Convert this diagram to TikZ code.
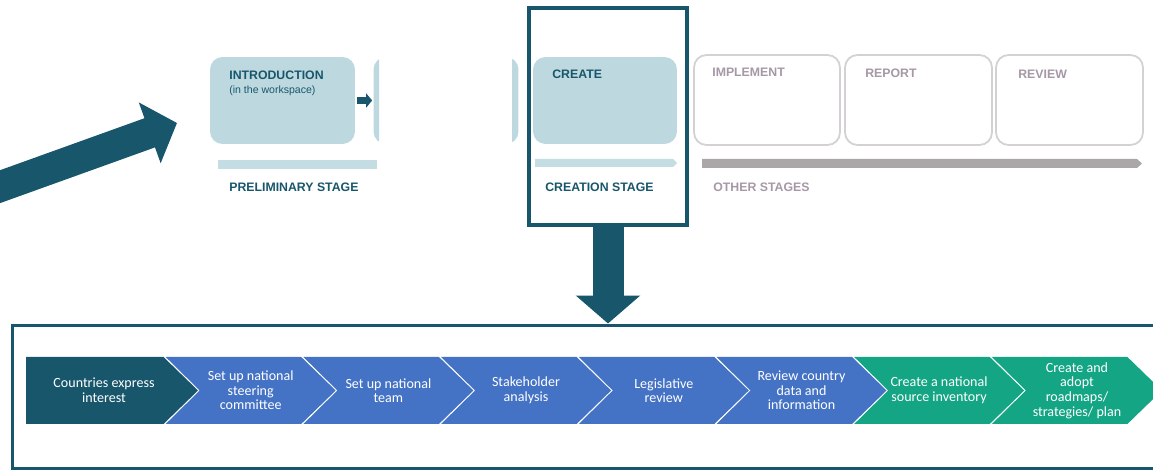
\documentclass[tikz,border=0pt]{standalone}
\usepackage{fontspec}
\setmainfont{Liberation Sans}
\newfontfamily\chevfont{Carlito}
\usetikzlibrary{arrows.meta}

\definecolor{deepteal}{HTML}{18566C}
\definecolor{paleteal}{HTML}{BDD9DF}
\definecolor{palebar}{HTML}{C3DDE3}
\definecolor{greytext}{HTML}{A698A6}
\definecolor{greyline}{HTML}{D3D1D3}
\definecolor{greybar}{HTML}{ABA7A8}
\definecolor{stepblue}{HTML}{4472C4}
\definecolor{stepgreen}{HTML}{13A584}

\tikzset{
  stagebox/.style={rounded corners=0.25cm, minimum width=2.9cm, minimum height=1.74cm, inner sep=0},
  stagetitle/.style={anchor=base west, inner sep=0, font=\fontsize{7}{8}\selectfont\bfseries, text=deepteal},
  steptext/.style={align=center, text=white, font=\chevfont\fontsize{8}{8.3}\selectfont},
  bigarrow/.style={deepteal, line width=0.62cm, -{Triangle[width=1.26cm,length=0.58cm]}},
}

\begin{document}
\begin{tikzpicture}[x=0.02cm, y=-0.02cm]
\useasboundingbox (0,0) rectangle (1153,472);

% arrow coming in from the left
\coordinate (intail) at (-12,191);
\coordinate (inhead) at (177,123);
\draw[bigarrow] (intail) -- (inhead);

% preliminary stage
\node[stagebox, fill=paleteal] (intro) at (282.5,100.5) {};
\node[stagetitle] at (229,80) (introtitle) {INTRODUCTION};
\node[stagetitle, font=\fontsize{6}{7}\selectfont] at (229,93.5) (introsub) {(in the workspace)};
\begin{scope}
\clip (370,50) rectangle (379,150) (512,50) rectangle (520,150);
\node[stagebox, fill=paleteal] (hidden) at (446,100.5) {};
\end{scope}
\draw[deepteal, line width=0.14cm, -{Triangle[width=0.28cm,length=0.12cm]}] ([xshift=0.04cm]intro.east) -- ([xshift=-0.02cm]hidden.west);
\fill[palebar] (218,160) rectangle (377,169);
\node[stagetitle] at (229,192) (prelim) {PRELIMINARY STAGE};

% creation stage
\node[draw=deepteal, line width=0.08cm, minimum width=3.16cm, minimum height=4.34cm, inner sep=0] (focus) at (608,116.5) {};
\node[stagebox, fill=paleteal, minimum width=2.88cm] (create) at (605,100.5) {};
\node[stagetitle] at (552,79) (createtitle) {CREATE};
\fill[palebar] (535,159) -- (673,159) -- (677,163) -- (673,167) -- (535,167) -- cycle;
\node[stagetitle] at (545,192) (creation) {CREATION STAGE};

% other stages
\node[stagebox, draw=greyline, line width=1pt, fill=white, minimum width=2.92cm, minimum height=1.8cm] (implement) at (767,100) {};
\node[stagebox, draw=greyline, line width=1pt, fill=white, minimum width=2.94cm, minimum height=1.8cm] (report) at (918.5,100) {};
\node[stagebox, draw=greyline, line width=1pt, fill=white, minimum width=2.94cm, minimum height=1.8cm] (review) at (1069.5,100) {};
\node[stagetitle, text=greytext] at (712,77) (impltitle) {IMPLEMENT};
\node[stagetitle, text=greytext] at (865,78) (reporttitle) {REPORT};
\node[stagetitle, text=greytext] at (1018,79) (reviewtitle) {REVIEW};
\fill[greybar] (702,159) -- (1137,159) -- (1142,163.5) -- (1137,168) -- (702,168) -- cycle;
\node[stagetitle, text=greytext] at (713,192) (others) {OTHER STAGES};

% steps of the creation stage
\node[draw=deepteal, line width=0.06cm, minimum width=23.2cm, minimum height=2.88cm, inner sep=0] (steps) at (592,397) {};
\draw[bigarrow, -{Triangle[width=1.26cm,length=0.56cm]}] (focus.south) -- (focus.south |- steps.north);

\fill[deepteal] (26,357) -- (163.5,357) -- (198,390.5) -- (163.5,424) -- (26,424) -- cycle;
\foreach \i/\col in {1/stepblue,2/stepblue,3/stepblue,4/stepblue,5/stepblue,6/stepgreen,7/stepgreen}
{
     \fill[\col] ({28+137.7*\i},357) -- ++(135.5,0) -- ++(34.5,33.5) -- ++(-34.5,33.5) -- ++(-135.5,0) -- ++(34,-33.5) -- cycle;
}
\node[steptext] at (104,390.5) (step1) {Countries express\\interest};
\node[steptext] at (250.7,390.5) (step2) {Set up national\\steering\\committee};
\node[steptext] at (388.4,390.5) (step3) {Set up national\\team};
\node[steptext] at (526,390.5) (step4) {Stakeholder\\analysis};
\node[steptext] at (663.8,390.5) (step5) {Legislative\\review};
\node[steptext] at (801.5,390.5) (step6) {Review country\\data and\\information};
\node[steptext] at (939,390.5) (step7) {Create a national\\source inventory};
\node[steptext] at (1077,390.5) (step8) {Create and\\adopt\\roadmaps/\\strategies/ plan};

\end{tikzpicture}
\end{document}
